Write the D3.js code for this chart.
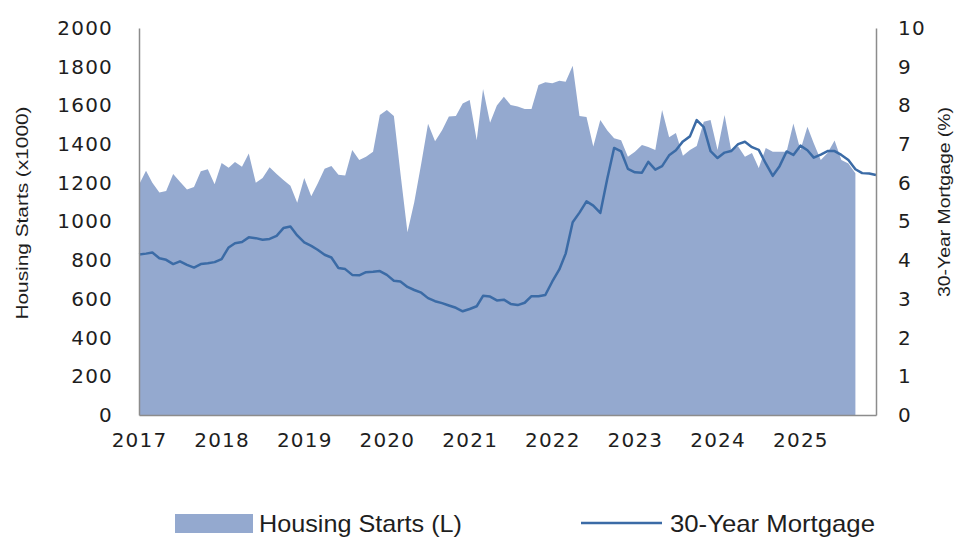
<!DOCTYPE html>
<html>
<head>
<meta charset="utf-8">
<script src="https://cdn.jsdelivr.net/npm/d3@7"></script>
<style>
  body { margin: 0; background: #fff; }
  svg { display: block; font-family: "DejaVu Sans", Verdana, sans-serif; }
</style>
</head>
<body>
<svg id="chart" width="959" height="539"></svg>
<script>
// monthly series, Jan 2017 onwards
const startMonth = new Date(2017, 0, 1);
const endMonth = new Date(2025, 11, 1);

// Housing starts (thousands, SAAR), Jan 2017 - Sep 2025
const housingStarts = [
  1190, 1262, 1200, 1150, 1158, 1245, 1205, 1165, 1178, 1260, 1270, 1192,
  1302, 1278, 1308, 1283, 1352, 1200, 1225, 1280, 1245, 1215, 1185, 1097,
  1225, 1130, 1195, 1272, 1287, 1242, 1238, 1370, 1318, 1335, 1361, 1550,
  1576, 1545, 1250, 945, 1100, 1300, 1505, 1415, 1472, 1542, 1545, 1610,
  1628, 1420, 1685, 1510, 1600, 1645, 1602, 1594, 1581, 1581, 1705, 1720,
  1714, 1728, 1722, 1805, 1545, 1540, 1387, 1525, 1470, 1430, 1420, 1335,
  1360, 1395, 1385, 1370, 1576, 1435, 1457, 1340, 1370, 1390, 1516, 1525,
  1370, 1550, 1370, 1387, 1335, 1354, 1276, 1380, 1361, 1361, 1360, 1507,
  1370, 1490, 1404, 1318, 1354, 1418, 1318, 1300, 1250
];

// 30-year mortgage rate (%), Jan 2017 - Dec 2025
const mortgageRate = [
  4.15, 4.17, 4.20, 4.05, 4.01, 3.90, 3.97, 3.88, 3.81, 3.90, 3.92, 3.95,
  4.03, 4.33, 4.44, 4.47, 4.59, 4.57, 4.53, 4.55, 4.63, 4.83, 4.87, 4.64,
  4.46, 4.37, 4.27, 4.14, 4.07, 3.80, 3.77, 3.62, 3.61, 3.69, 3.70, 3.72,
  3.62, 3.47, 3.45, 3.31, 3.23, 3.16, 3.02, 2.94, 2.89, 2.83, 2.77, 2.68,
  2.74, 2.81, 3.08, 3.06, 2.96, 2.98, 2.87, 2.84, 2.90, 3.07, 3.07, 3.10,
  3.45, 3.76, 4.17, 4.98, 5.23, 5.52, 5.41, 5.22, 6.11, 6.90, 6.81, 6.36,
  6.27, 6.26, 6.54, 6.34, 6.43, 6.71, 6.84, 7.07, 7.20, 7.62, 7.44, 6.82,
  6.64, 6.78, 6.82, 7.00, 7.06, 6.92, 6.85, 6.50, 6.18, 6.43, 6.81, 6.72,
  6.96, 6.84, 6.65, 6.73, 6.82, 6.82, 6.72, 6.59, 6.35, 6.25, 6.24, 6.20
];

const yearTicks = [2017, 2018, 2019, 2020, 2021, 2022, 2023, 2024, 2025];
const leftTicks = [0, 200, 400, 600, 800, 1000, 1200, 1400, 1600, 1800, 2000];
const rightTicks = [0, 1, 2, 3, 4, 5, 6, 7, 8, 9, 10];

const AREA_FILL = '#94a9cf';
const LINE_COLOR = '#3b6ba6';
const AXIS_COLOR = '#8c8c8c';
const TEXT_COLOR = '#1e1e1e';

const svg = d3.select('#chart');
const plot = { left: 139, right: 876, top: 28, bottom: 415 };

const monthAt = (i) => d3.timeMonth.offset(startMonth, i);
const startsData = housingStarts.map((v, i) => ({ date: monthAt(i), v }));
const rateData = mortgageRate.map((v, i) => ({ date: monthAt(i), v }));

const x = d3.scaleTime().domain([startMonth, endMonth]).range([plot.left, plot.right]);
const yL = d3.scaleLinear().domain([0, 2000]).range([plot.bottom, plot.top]);
const yR = d3.scaleLinear().domain([0, 10]).range([plot.bottom, plot.top]);

// area
svg.append('path')
  .datum(startsData)
  .attr('fill', AREA_FILL)
  .attr('d', d3.area()
    .x((d) => x(d.date))
    .y0(yL(0))
    .y1((d) => yL(d.v)));

// mortgage line
svg.append('path')
  .datum(rateData)
  .attr('fill', 'none')
  .attr('stroke', LINE_COLOR)
  .attr('stroke-width', 2.5)
  .attr('stroke-linejoin', 'round')
  .attr('d', d3.line()
    .x((d) => x(d.date))
    .y((d) => yR(d.v)));

const styleAxis = (g) => {
  g.select('.domain').attr('stroke', AXIS_COLOR).attr('stroke-width', 1.5);
  g.selectAll('.tick line').remove();
  g.selectAll('text')
    .attr('fill', TEXT_COLOR)
    .attr('font-size', 20)
    .attr('letter-spacing', 1.2)
    .attr('font-family', '"DejaVu Sans", Verdana, sans-serif');
};

svg.append('g')
  .attr('transform', `translate(${plot.left},0)`)
  .call(d3.axisLeft(yL).tickValues(leftTicks).tickFormat(d3.format('d'))
    .tickSize(0).tickSizeOuter(0).tickPadding(26))
  .call(styleAxis);

svg.append('g')
  .attr('transform', `translate(${plot.right},0)`)
  .call(d3.axisRight(yR).tickValues(rightTicks).tickFormat(d3.format('d'))
    .tickSize(0).tickSizeOuter(0).tickPadding(22))
  .call(styleAxis);

svg.append('g')
  .attr('transform', `translate(0,${plot.bottom})`)
  .call(d3.axisBottom(x)
    .tickValues(yearTicks.map((yr) => new Date(yr, 0, 1)))
    .tickFormat(d3.timeFormat('%Y'))
    .tickSize(0).tickSizeOuter(0).tickPadding(18))
  .call(styleAxis);

// axis titles
svg.append('text')
  .attr('transform', 'translate(28,213) rotate(-90)')
  .attr('text-anchor', 'middle')
  .attr('fill', TEXT_COLOR)
  .attr('font-size', 17)
  .attr('font-family', '"Liberation Sans", Arial, sans-serif')
  .attr('textLength', 213)
  .attr('lengthAdjust', 'spacingAndGlyphs')
  .text('Housing Starts (x1000)');

svg.append('text')
  .attr('transform', 'translate(950,202) rotate(-90)')
  .attr('text-anchor', 'middle')
  .attr('fill', TEXT_COLOR)
  .attr('font-size', 17)
  .attr('font-family', '"Liberation Sans", Arial, sans-serif')
  .attr('textLength', 190)
  .attr('lengthAdjust', 'spacingAndGlyphs')
  .text('30-Year Mortgage (%)');

// legend
const legend = svg.append('g')
  .attr('font-family', '"Liberation Sans", Arial, sans-serif')
  .attr('font-size', 24)
  .attr('fill', TEXT_COLOR);

legend.append('rect')
  .attr('x', 175).attr('y', 514)
  .attr('width', 78).attr('height', 19)
  .attr('fill', AREA_FILL);

legend.append('text')
  .attr('x', 259).attr('y', 532)
  .attr('textLength', 203)
  .attr('lengthAdjust', 'spacingAndGlyphs')
  .text('Housing Starts (L)');

legend.append('line')
  .attr('x1', 581).attr('x2', 662)
  .attr('y1', 523).attr('y2', 523)
  .attr('stroke', LINE_COLOR)
  .attr('stroke-width', 2.5);

legend.append('text')
  .attr('x', 670).attr('y', 532)
  .attr('textLength', 205)
  .attr('lengthAdjust', 'spacingAndGlyphs')
  .text('30-Year Mortgage');
</script>
</body>
</html>
